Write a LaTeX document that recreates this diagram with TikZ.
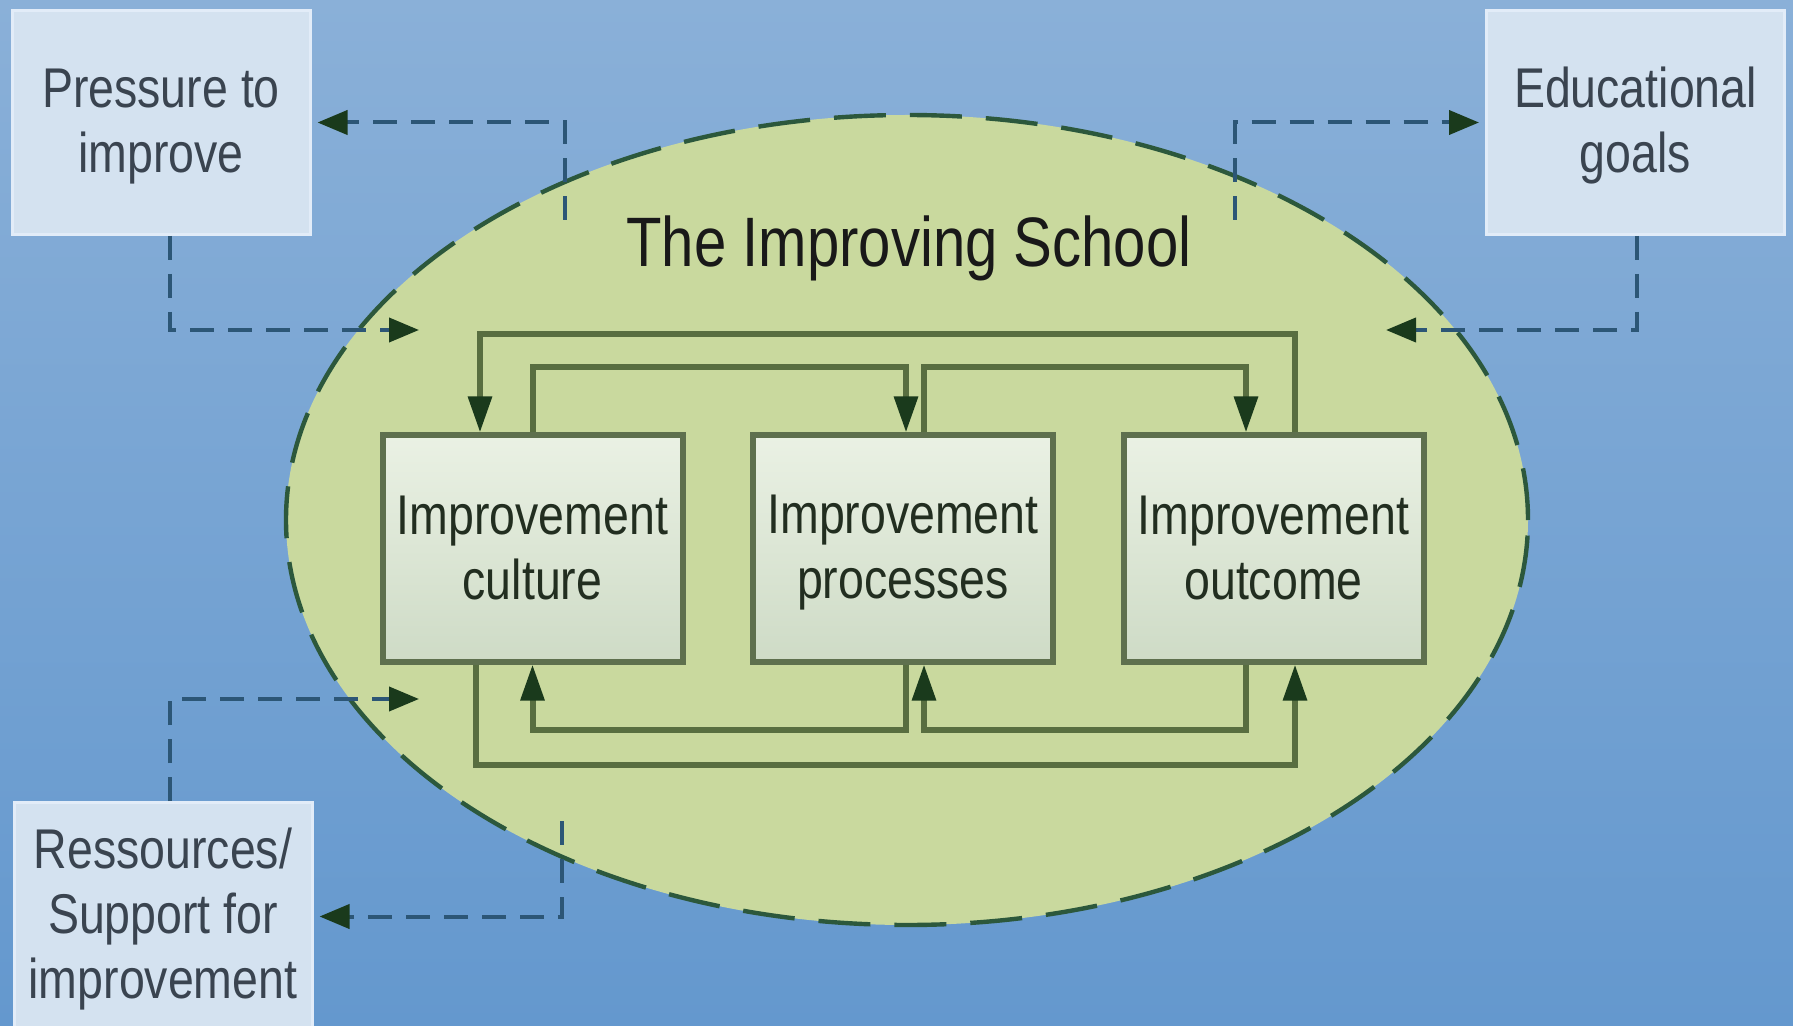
\documentclass[tikz,border=0pt]{standalone}
\usepackage{fontspec}
\setmainfont[FakeStretch=0.83]{Liberation Sans}
\usetikzlibrary{shapes.geometric, arrows.meta, positioning}

\definecolor{fundoTopo}{RGB}{138,176,216}
\definecolor{fundoBase}{RGB}{100,152,206}
\definecolor{caixaAzul}{RGB}{212,226,240}
\definecolor{bordaAzul}{RGB}{226,236,248}
\definecolor{textoCinza}{RGB}{58,68,80}
\definecolor{elipseVerde}{RGB}{201,217,158}
\definecolor{elipseBorda}{RGB}{44,88,60}
\definecolor{caixaTopo}{RGB}{234,241,228}
\definecolor{caixaBase}{RGB}{206,219,198}
\definecolor{caixaBorda}{RGB}{94,112,78}
\definecolor{linhaVerde}{RGB}{88,110,64}
\definecolor{setaVerde}{RGB}{26,58,28}
\definecolor{tracoAzul}{RGB}{44,86,118}
\definecolor{textoVerde}{RGB}{34,46,32}

\begin{document}
\begin{tikzpicture}[
        x=0.5pt, y=-0.5pt,
        font=\fontsize{28}{32.5}\selectfont,
        externo/.style={rectangle, draw=bordaAzul, line width=1.5pt, fill=caixaAzul, text=textoCinza, align=center, minimum width=149pt, minimum height=112pt, inner sep=2pt},
        interno/.style={rectangle, draw=caixaBorda, line width=3pt, top color=caixaTopo, bottom color=caixaBase, text=textoVerde, align=center, minimum width=150pt, minimum height=113pt, inner sep=2pt},
        escola/.style={ellipse, draw=elipseBorda, line width=2.2pt, dash pattern=on 26pt off 12pt, fill=elipseVerde, minimum width=621pt, minimum height=405pt, inner sep=0pt},
        fluxo/.style={-{Triangle[length=18pt, width=11.5pt, color=setaVerde]}, line width=3pt, linhaVerde},
        ligacao/.style={-{Triangle[length=15pt, width=12pt, color=setaVerde]}, line width=2pt, tracoAzul, dash pattern=on 12pt off 7pt, shorten >=3pt}
    ]

    \useasboundingbox (0,0) rectangle (1793,1026);
    \shade[top color=fundoTopo, bottom color=fundoBase] (0,0) rectangle (1793,1026);

    % ELIPSE CENTRAL
    \node[escola] (school) at (907,520) {};
    \node[font=\fontsize{35}{40}\selectfont, text={black!90}] (titulo) at (909,248) {The Improving School};

    % CAIXAS EXTERNAS
    \node[externo] (pressure) at (161,122.5) {\rule{0pt}{23pt}Pressure to\\improve\rule[-5pt]{0pt}{5pt}};
    \node[externo] (educ) at (1635.5,122.5) {\rule{0pt}{23pt}Educational\\goals\rule[-5pt]{0pt}{5pt}};
    \node[externo, minimum height=114pt] (ressources) at (163,916.5) {\rule{0pt}{23pt}Ressources/\\Support for\\improvement\rule[-5pt]{0pt}{5pt}};

    % CAIXAS INTERNAS
    \node[interno] (culture) at (532.5,548.5) {\rule{0pt}{23pt}Improvement\\culture\rule[-5pt]{0pt}{5pt}};
    \node[interno] (processes) at (903,548.5) {\rule{0pt}{23pt}Improvement\\processes\rule[-5pt]{0pt}{5pt}};
    \node[interno] (outcome) at (1273.5,548.5) {\rule{0pt}{23pt}Improvement\\outcome\rule[-5pt]{0pt}{5pt}};

    % --- CONECTORES (topo) ---
    \draw[fluxo] ([xshift=10.75pt]outcome.north) -- ++(0,-98) -| ([xshift=-26.25pt]culture.north);
    \draw[fluxo] (culture.north) -- ++(0,-65) -| ([xshift=1.5pt]processes.north);
    \draw[fluxo] ([xshift=10.5pt]processes.north) -- ++(0,-65) -| ([xshift=-13.75pt]outcome.north);

    % --- CONECTORES (base) ---
    \draw[fluxo] ([xshift=1.5pt]processes.south) -- ++(0,65) -| (culture.south);
    \draw[fluxo] ([xshift=-13.75pt]outcome.south) -- ++(0,65) -| ([xshift=10.5pt]processes.south);
    \draw[fluxo] ([xshift=-28.25pt]culture.south) -- ++(0,100) -| ([xshift=10.75pt]outcome.south);

    % --- LIGACOES TRACEJADAS ---
    \coordinate (saidaTL) at (565,220);
    \coordinate (saidaTR) at (1235,220);
    \coordinate (saidaBL) at (562,821);
    \coordinate (entradaL1) at (425,330);
    \coordinate (entradaR) at (1380,330);
    \coordinate (entradaL2) at (425,699);

    \draw[ligacao] (saidaTL) |- (pressure);
    \draw[ligacao] ([xshift=4.5pt]pressure.south) |- (entradaL1);
    \draw[ligacao] (saidaTR) |- (educ);
    \draw[ligacao] ([xshift=0.75pt]educ.south) |- (entradaR);
    \draw[ligacao] ([xshift=3.5pt]ressources.north) |- (entradaL2);
    \draw[ligacao] (saidaBL) |- (ressources);

\end{tikzpicture}
\end{document}
